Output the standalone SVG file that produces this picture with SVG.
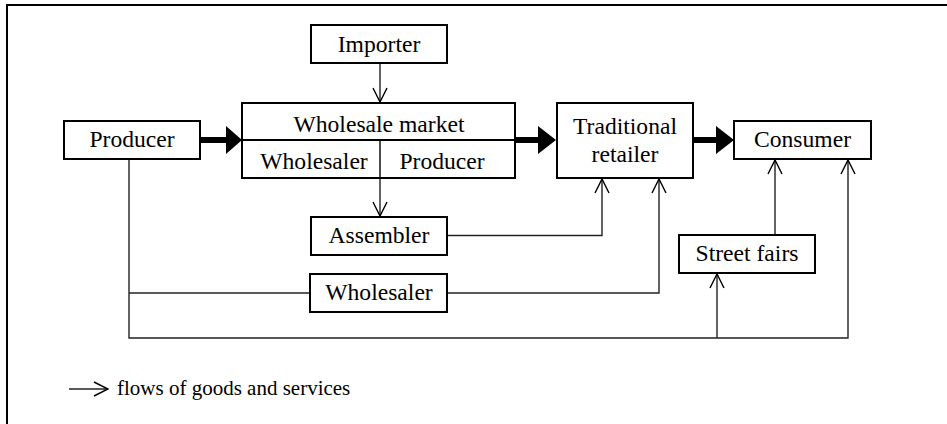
<svg xmlns="http://www.w3.org/2000/svg" width="947" height="424" viewBox="0 0 947 424">
<defs>
<style>
.box{fill:#fff;stroke:#000;stroke-width:2}
.t{font-family:"Liberation Serif","Times New Roman",serif;font-size:23.6px;fill:#000;text-anchor:middle}
.lg{font-family:"Liberation Serif","Times New Roman",serif;font-size:21px;fill:#000}
.thin{fill:none;stroke:#222;stroke-width:1.4}
.thick{fill:none;stroke:#000;stroke-width:6}
.head{fill:#000}
</style>
<marker id="open" viewBox="0 0 16 16" refX="15" refY="8" markerWidth="16" markerHeight="16" markerUnits="userSpaceOnUse" orient="auto">
<path d="M1,1 L15,8 L1,15" fill="none" stroke="#000" stroke-width="1.4"/>
</marker>
</defs>
<rect width="947" height="424" fill="#fff"/>
<path d="M7,424 V5 H947" fill="none" stroke="#000" stroke-width="2"/>

<g id="connectors">
<path class="thin" d="M380,63 V102" marker-end="url(#open)"/>
<path class="thin" d="M380,178 V216" marker-end="url(#open)"/>
<path class="thin" d="M447,235.5 H602 V179" marker-end="url(#open)"/>
<path class="thin" d="M129,159 V338 H848 V160" marker-end="url(#open)"/>
<path class="thin" d="M129,293 H310"/>
<path class="thin" d="M447,293 H659 V179" marker-end="url(#open)"/>
<path class="thin" d="M717,338 V274" marker-end="url(#open)"/>
<path class="thin" d="M775,235 V160" marker-end="url(#open)"/>
<path class="thick" d="M200,140 H228"/>
<path class="head" d="M226,126 L242,140 L226,154 Z"/>
<path class="thick" d="M515,140 H540"/>
<path class="head" d="M538,126 L556,140 L538,154 Z"/>
<path class="thick" d="M693,140 H718"/>
<path class="head" d="M716,126 L734,140 L716,154 Z"/>
</g>

<g id="importer">
<rect class="box" x="311" y="25" width="136" height="38"/>
<text class="t" x="379" y="52">Importer</text>
</g>
<g id="producer">
<rect class="box" x="64" y="121" width="136" height="38"/>
<text class="t" x="132" y="147">Producer</text>
</g>
<g id="wholesale-market">
<rect class="box" x="242" y="103" width="273" height="75"/>
<line x1="242" y1="140" x2="515" y2="140" stroke="#000" stroke-width="2"/>
<line x1="380" y1="140" x2="380" y2="178" stroke="#000" stroke-width="1.4"/>
<text class="t" x="379" y="131.5">Wholesale market</text>
<text class="t" x="314" y="168.5">Wholesaler</text>
<text class="t" x="442" y="168.5">Producer</text>
</g>
<g id="traditional-retailer">
<rect class="box" x="557" y="103" width="136" height="75"/>
<text class="t" x="625" y="134">Traditional</text>
<text class="t" x="625" y="162">retailer</text>
</g>
<g id="consumer">
<rect class="box" x="734" y="121" width="137" height="38"/>
<text class="t" x="802.5" y="147">Consumer</text>
</g>
<g id="assembler">
<rect class="box" x="311" y="217" width="136" height="38"/>
<text class="t" x="379" y="243">Assembler</text>
</g>
<g id="wholesaler">
<rect class="box" x="310" y="274" width="137" height="38"/>
<text class="t" x="379" y="300">Wholesaler</text>
</g>
<g id="street-fairs">
<rect class="box" x="679" y="235" width="136" height="38"/>
<text class="t" x="747" y="261">Street fairs</text>
</g>
<g id="legend">
<path class="thin" d="M69,389 H108" marker-end="url(#open)"/>
<text class="lg" x="117" y="395">flows of goods and services</text>
</g>
</svg>
